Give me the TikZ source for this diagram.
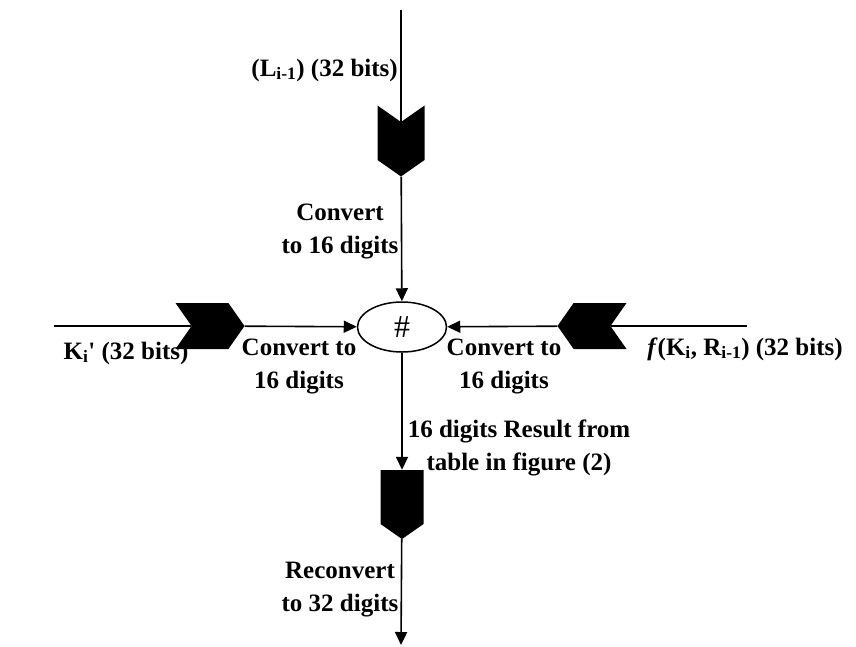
\documentclass[tikz,border=0pt]{standalone}
\usepackage{fontspec}
\setmainfont{Liberation Serif}
\usepackage{tikz}
\usetikzlibrary{arrows.meta}
\usetikzlibrary{positioning}
\usetikzlibrary{shapes.geometric}
\usetikzlibrary{shapes.symbols}

\begin{document}
\begin{tikzpicture}
        [x=1pt,y=-1pt,
        chevron/.style={signal,fill=black,draw=none,inner sep=0pt,signal pointer angle=110},
        junction/.style={ellipse,draw=black,line width=1.5pt,minimum width=89pt,minimum height=50pt,inner sep=0pt},
        label/.style={align=center,inner sep=0pt,font=\bfseries\fontsize{25}{33}\selectfont},
        to/.style={-{Triangle[length=13pt,width=12pt]},line width=1.6pt},
        plain/.style={-,line width=1.6pt}]

\useasboundingbox (0,0) rectangle (856,646);

% shapes
\node[junction] at (402,327) (hash) {\fontsize{32}{32}\selectfont\#};

\node[chevron,signal from=north,signal to=south,minimum width=47pt,minimum height=38pt] at (401,141) (topchev) {};
\node[chevron,signal from=west,signal to=east,minimum width=69pt,minimum height=46pt] at (210,326) (leftchev) {};
\node[chevron,signal from=east,signal to=west,minimum width=69pt,minimum height=46pt] at (592,326) (rightchev) {};
\node[chevron,signal to=south,minimum width=43pt,minimum height=54pt] at (402,497) (botchev) {};

% ends
\coordinate (topin) at (401,10);
\coordinate (leftin) at (54,326);
\coordinate (rightin) at (747,326);
\coordinate (botout) at (401,645);

% texts
\node[label,anchor=east] at (398,70) (lin) {(L\textsubscript{i-1}) (32 bits)};
\node[label] at (340,231) (convtop) {Convert\\to 16 digits};
\node[label] at (126,353) (kin) {K\textsubscript{i}\textquotesingle\ (32 bits)};
\node[label] at (299,366) (convleft) {Convert to\\16 digits};
\node[label] at (504,366) (convright) {Convert to\\16 digits};
\node[label] at (745,349) (fin) {\textit{f}(K\textsubscript{i}, R\textsubscript{i-1}) (32 bits)};
\node[label] at (519,448) (result) {16 digits Result from\\table in figure (2)};
\node[label] at (340,590) (reconv) {Reconvert\\to 32 digits};

%arrows
\draw[plain] (topin) -- (topchev);
\draw[to] (topchev) -- (hash);
\draw[plain] (leftin) -- (leftchev);
\draw[to] (leftchev) -- (hash);
\draw[plain] (rightin) -- (rightchev);
\draw[to] (rightchev) -- (hash);
\draw[to] (hash) -- (botchev);
\draw[to] (botchev) -- (botout);

\end{tikzpicture}
\end{document}
